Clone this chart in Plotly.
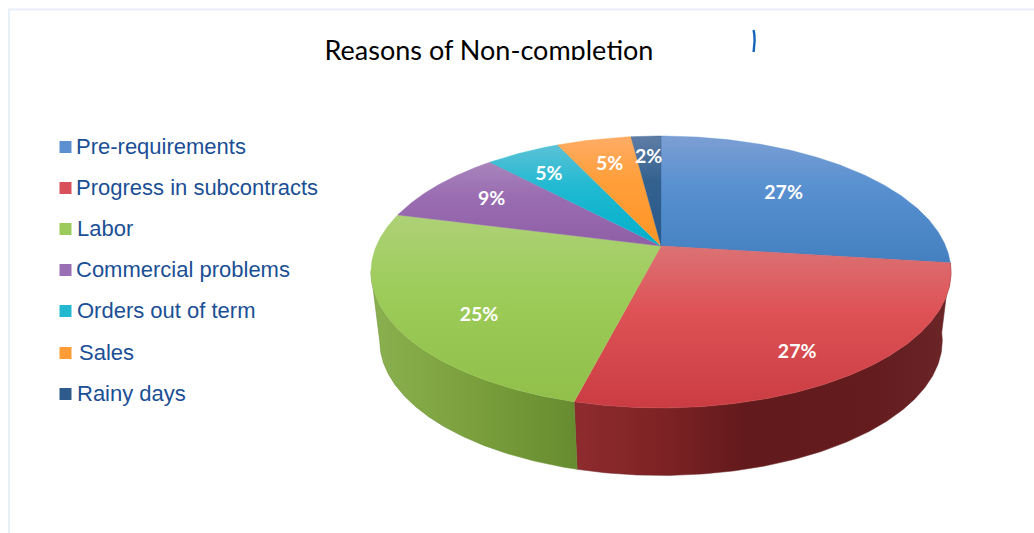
import math
import plotly.graph_objects as go

# Survey shares, in percent, clockwise from twelve o'clock
categories = ["Pre-requirements", "Progress in subcontracts", "Labor",
              "Commercial problems", "Orders out of term", "Sales", "Rainy days"]
shares = [27, 27, 25, 9, 5, 5, 2]
percent_labels = ["27%", "27%", "25%", "9%", "5%", "5%", "2%"]

# Slice styling: (lit edge, middle, shaded edge) for the top face
top_colors = [
    ("#7c9fd4", "#5890d0", "#4480c0"),
    ("#db7274", "#de5256", "#ca3c42"),
    ("#aed177", "#9dcc5a", "#91bf4a"),
    ("#a885bb", "#9a6db2", "#8f5fa6"),
    ("#5cc1d6", "#22bad2", "#00aeca"),
    ("#ffac66", "#ff9f3a", "#ff9526"),
    ("#5f7da6", "#34628f", "#28588a"),
]
legend_colors = ["#5c90d0", "#d8505a", "#9ccb5b", "#9a6fb4", "#22b8d0", "#ff9c38", "#2f5a8c"]
wall_scales = {
    1: [[0, "#8e2b2e"], [0.2, "#812426"], [0.45, "#631a1c"], [0.8, "#641c1f"], [1, "#6b2628"]],
    2: [[0, "#8bb04f"], [0.5, "#7a9f3c"], [1, "#668c30"]],
}

# Label placement: fraction of the radius, plus small nudges in pixels
label_radius = [0.63, 0.75, 0.70, 0.75, 0.78, 0.75, 0.80]
label_drop = [-1, 15, 20, 1, 4, 2, 3]
label_shift = [-2, 0, 2, 2, -1, 1, 0]

# Projection of the disc onto the page
CX, CY = 661.0, 246.0
SCALE_X, SCALE_Y = 284.7, 131.0
TILT = 0.191
DEPTH, SHRINK, LOWER_FLATTEN = 72.0, 0.03, 0.92
TEXT_BLUE = "#1b4f95"
LEGEND_Y = [147, 188, 229, 270, 311, 353, 394]
LEGEND_TEXT_X = [76, 76, 77, 76, 77, 79, 77]


def project(pct, radius=1.0, lower=False):
    """Page position of a point on the disc; pct runs clockwise from the top."""
    t = 2 * math.pi * pct / 100
    side, near = radius * math.sin(t), -radius * math.cos(t)
    den = 1 - TILT * near + (SHRINK if lower else 0)
    drop = DEPTH if lower else 0
    flatten = LOWER_FLATTEN if lower else 1
    return CX + SCALE_X * side / den, CY + (SCALE_Y * flatten * near + drop) / den


def arc(start, end, lower=False, steps=160):
    pts = [project(start + (end - start) * i / steps, lower=lower) for i in range(steps + 1)]
    return [p[0] for p in pts], [p[1] for p in pts]


fig = go.Figure()

# Slice boundaries as cumulative percentages
edges = [0]
for s in shares:
    edges.append(edges[-1] + s)

# Outer wall, only where it faces the viewer
VISIBLE_END = 72.0
for i, scale in wall_scales.items():
    start, end = edges[i], min(edges[i + 1], VISIBLE_END)
    tx, ty = arc(start, end)
    bx, by = arc(start, end, lower=True)
    xs = tx + bx[::-1] + tx[:1]
    ys = ty + by[::-1] + ty[:1]
    fig.add_trace(go.Scatter(
        x=xs, y=ys, mode="lines", fill="toself",
        line=dict(width=0.5, color=scale[-1][1]),
        fillgradient=dict(type="horizontal", colorscale=scale, start=min(xs), stop=max(xs)),
        hoverinfo="skip", showlegend=False,
    ))

# Top faces, each with its own sheen running down the slice
for i, colors in enumerate(top_colors):
    ax, ay = arc(edges[i], edges[i + 1])
    xs = [CX] + ax + [CX]
    ys = [CY] + ay + [CY]
    lo, hi = min(ys), max(ys)
    fig.add_trace(go.Scatter(
        x=xs, y=ys, mode="lines", fill="toself",
        line=dict(width=0.4, color=colors[1]),
        fillgradient=dict(type="vertical",
                          colorscale=[[0, colors[0]], [0.4, colors[1]], [1, colors[2]]],
                          start=lo, stop=hi),
        hoverinfo="skip", showlegend=False,
    ))

# Percentages on the slices
lx, ly = [], []
for i, s in enumerate(shares):
    px, py = project(edges[i] + s / 2, radius=label_radius[i])
    lx.append(px + label_shift[i])
    ly.append(py + label_drop[i])
fig.add_trace(go.Scatter(
    x=lx, y=ly, mode="text", text=percent_labels, textposition="middle center",
    textfont=dict(family="Lato", size=19.5, color="white", weight="bold"),
    hoverinfo="skip", showlegend=False,
))

# Legend
fig.add_trace(go.Scatter(
    x=[65.5] * len(categories), y=LEGEND_Y, mode="markers",
    marker=dict(symbol="square", size=12, color=legend_colors, line=dict(width=0)),
    hoverinfo="skip", showlegend=False,
))
fig.add_trace(go.Scatter(
    x=LEGEND_TEXT_X, y=[v + 1.5 for v in LEGEND_Y], mode="text", text=categories,
    textposition="middle right",
    textfont=dict(family="Liberation Sans", size=22, color=TEXT_BLUE),
    hoverinfo="skip", showlegend=False,
))

# Title, its descenders trimmed by the white band above the traces
fig.add_trace(go.Scatter(
    x=[489], y=[53.5], mode="text", text=["Reasons of Non-comple\u200ction"],
    textposition="middle center",
    textfont=dict(family="Lato", size=27, color="black"),
    hoverinfo="skip", showlegend=False,
))

# Small stray arc beside the title
fig.add_trace(go.Scatter(
    x=[753.6, 754.4, 754.6, 754.4, 753.6], y=[30, 35, 41, 47, 52], mode="lines",
    line=dict(color="#1565b8", width=2.4),
    hoverinfo="skip", showlegend=False,
))

fig.update_layout(
    width=1034, height=533,
    margin=dict(l=0, r=0, t=0, b=0),
    paper_bgcolor="white", plot_bgcolor="white",
    xaxis=dict(range=[0, 1034], visible=False, fixedrange=True),
    yaxis=dict(range=[533, 0], visible=False, fixedrange=True),
    shapes=[
        dict(type="rect", xref="x", yref="y", x0=300, x1=700, y0=60, y1=75,
             fillcolor="white", line=dict(width=0), layer="above"),
        dict(type="line", xref="x", yref="y", x0=8, x1=1034, y0=9.5, y1=9.5,
             line=dict(color="#e7eff7", width=2), layer="below"),
        dict(type="line", xref="x", yref="y", x0=9, x1=9, y0=9, y1=533,
             line=dict(color="#e7eff7", width=2), layer="below"),
    ],
)

fig.write_html("out.html")
